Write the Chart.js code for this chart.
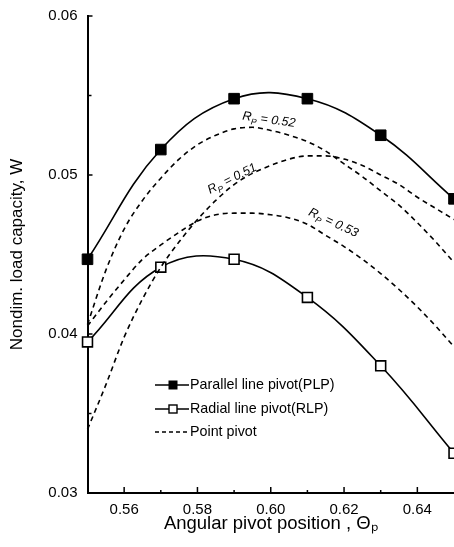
<!DOCTYPE html>
<html><head><meta charset="utf-8">
<script src="https://cdn.jsdelivr.net/npm/chart.js@4.4.0/dist/chart.umd.min.js"></script>
<style>html,body{margin:0;padding:0;background:#fff;}</style>
</head><body>
<canvas id="c" width="454" height="547"></canvas>
<script>
// ---- data ----
const markerX = [0.55, 0.57, 0.59, 0.61, 0.63, 0.65];
const plpValues = [0.0447, 0.0516, 0.0548, 0.0548, 0.0525, 0.0485];
const rlpValues = [0.0395, 0.0442, 0.0447, 0.0423, 0.0380, 0.0325];

const pivotX = [0.55, 0.555, 0.56, 0.565, 0.57, 0.575, 0.58, 0.585, 0.59, 0.595, 0.60,
                0.605, 0.61, 0.615, 0.62, 0.625, 0.63, 0.635, 0.64, 0.645, 0.65];
const point051 = [0.0340, 0.0368, 0.0398, 0.0422, 0.0442, 0.0458, 0.0472, 0.0484, 0.0494, 0.0501, 0.0506,
                  0.0510, 0.0512, 0.0512, 0.0510, 0.0506, 0.0500, 0.0494, 0.0486, 0.0479, 0.0472];
const point052 = [0.0406, 0.0440, 0.0466, 0.0484, 0.0498, 0.0510, 0.0519, 0.0525, 0.0529, 0.0530, 0.0528,
                  0.0525, 0.0521, 0.0515, 0.0507, 0.0499, 0.0490, 0.0481, 0.0470, 0.0458, 0.0445];
const point053 = [0.0405, 0.0420, 0.0434, 0.0447, 0.0456, 0.0464, 0.0471, 0.0475, 0.0476, 0.0476, 0.0475,
                  0.0473, 0.0469, 0.0462, 0.0455, 0.0447, 0.0438, 0.0428, 0.0417, 0.0405, 0.0392];

const xTickValues = [0.56, 0.58, 0.60, 0.62, 0.64];
const xMinorValues = [0.57, 0.59, 0.61, 0.63];
const yTickValues = [0.03, 0.04, 0.05, 0.06];
const yMinorValues = [0.035, 0.045, 0.055];

const rpNames = ['0.51', '0.52', '0.53'];
const rpAtX = [0.5830, 0.5923, 0.6105];
const rpAtY = [0.0490, 0.0537, 0.0477];
const rpAngle = [-27, 8, 25];

const legendNames = ['Parallel line pivot(PLP)', 'Radial line pivot(RLP)', 'Point pivot'];

const FONT = '"Liberation Sans", Arial, Helvetica, sans-serif';
const pts = (xs, ys) => xs.map((x, i) => ({x, y: ys[i]}));

const dashed = (ys) => ({
  data: pts(pivotX, ys), borderColor: '#000', borderWidth: 1.6, borderDash: [5, 4],
  pointRadius: 0, fill: false, cubicInterpolationMode: 'monotone', clip: false
});

const datasets = [
  dashed(point051), dashed(point052), dashed(point053),
  { label: legendNames[0], data: pts(markerX, plpValues), borderColor: '#000', borderWidth: 1.6,
    pointStyle: 'rect', pointRadius: 7.5, pointBackgroundColor: '#000', pointBorderColor: '#000',
    pointBorderWidth: 1, tension: 0.4, fill: false, clip: false },
  { label: legendNames[1], data: pts(markerX, rlpValues), borderColor: '#000', borderWidth: 1.6,
    pointStyle: 'rect', pointRadius: 7, pointBackgroundColor: '#fff', pointBorderColor: '#000',
    pointBorderWidth: 1.6, tension: 0.4, fill: false, clip: false }
];

const decor = {
  id: 'decor',
  afterDraw(chart) {
    const ctx = chart.ctx, xs = chart.scales.x, ys = chart.scales.y, a = chart.chartArea;
    ctx.save();
    ctx.strokeStyle = '#000'; ctx.lineWidth = 1.5;
    // inward ticks
    xTickValues.forEach(v => { const p = xs.getPixelForValue(v); ctx.beginPath(); ctx.moveTo(p, a.bottom); ctx.lineTo(p, a.bottom - 6); ctx.stroke(); });
    xMinorValues.forEach(v => { const p = xs.getPixelForValue(v); ctx.beginPath(); ctx.moveTo(p, a.bottom); ctx.lineTo(p, a.bottom - 3); ctx.stroke(); });
    yTickValues.forEach(v => { const p = ys.getPixelForValue(v); ctx.beginPath(); ctx.moveTo(a.left, p); ctx.lineTo(a.left + 5, p); ctx.stroke(); });
    yMinorValues.forEach(v => { const p = ys.getPixelForValue(v); ctx.beginPath(); ctx.moveTo(a.left, p); ctx.lineTo(a.left + 4, p); ctx.stroke(); });

    // R_P labels
    ctx.fillStyle = '#000'; ctx.textBaseline = 'middle';
    rpNames.forEach((n, i) => {
      ctx.save();
      ctx.translate(xs.getPixelForValue(rpAtX[i]), ys.getPixelForValue(rpAtY[i]));
      ctx.rotate(rpAngle[i] * Math.PI / 180);
      ctx.font = 'italic 12.5px ' + FONT;
      ctx.fillText('R', 0, 0);
      let w = ctx.measureText('R').width;
      ctx.font = 'italic 8.5px ' + FONT;
      ctx.fillText('P', w, 4.5);
      w += ctx.measureText('P').width;
      ctx.font = 'italic 12.5px ' + FONT;
      ctx.fillText(' = ' + n, w, 0);
      ctx.restore();
    });

    // legend
    const lx0 = 155, lx1 = 189, mx = 173, rows = [385, 409, 432];
    ctx.font = '14.3px ' + FONT; ctx.textBaseline = 'middle'; ctx.textAlign = 'left';
    rows.forEach((y, i) => {
      ctx.beginPath(); ctx.lineWidth = 1.5;
      if (i === 2) ctx.setLineDash([4, 3]); else ctx.setLineDash([]);
      ctx.moveTo(lx0, y); ctx.lineTo(lx1, y); ctx.stroke();
      ctx.setLineDash([]);
      if (i === 0) { ctx.fillStyle = '#000'; ctx.fillRect(mx - 4.5, y - 4.5, 9, 9); }
      if (i === 1) { ctx.fillStyle = '#fff'; ctx.fillRect(mx - 4, y - 4, 8, 8); ctx.lineWidth = 1.4; ctx.strokeRect(mx - 4, y - 4, 8, 8); }
      ctx.fillStyle = '#000';
      ctx.fillText(legendNames[i], lx1 + 1, y);
    });
    ctx.restore();
  }
};

new Chart(document.getElementById('c'), {
  type: 'line',
  data: { datasets },
  options: {
    responsive: false, animation: false, devicePixelRatio: 1,
    layout: { autoPadding: false, padding: { top: 16, right: 0, left: 0, bottom: 4 } },
    plugins: { legend: { display: false }, tooltip: { enabled: false } },
    scales: {
      x: {
        type: 'linear', min: 0.55, max: 0.65,
        afterBuildTicks: s => { s.ticks = xTickValues.map(v => ({value: v})); },
        afterFit: s => { s.height = 50; s.paddingLeft = 0; s.paddingRight = 0; },
        grid: { display: false },
        border: { display: true, color: '#000', width: 2 },
        ticks: { color: '#000', padding: 0, maxRotation: 0, font: { family: FONT, size: 15 },
                 callback: v => v.toFixed(2) },
        title: { display: true, text: 'Angular pivot position , Θₚ', color: '#000',
                 font: { family: FONT, size: 18.5 }, padding: { top: 0, bottom: 8 } }
      },
      y: {
        type: 'linear', min: 0.03, max: 0.06,
        afterBuildTicks: s => { s.ticks = yTickValues.map(v => ({value: v})); },
        afterFit: s => { s.width = 87.5; },
        grid: { display: false },
        border: { display: true, color: '#000', width: 2 },
        ticks: { color: '#000', padding: 2, font: { family: FONT, size: 15 },
                 callback: v => v.toFixed(2) },
        title: { display: true, text: 'Nondim. load capacity, W', color: '#000',
                 font: { family: FONT, size: 17 }, padding: { top: 7, bottom: 0 } }
      }
    }
  },
  plugins: [decor]
});
</script>
</body></html>
